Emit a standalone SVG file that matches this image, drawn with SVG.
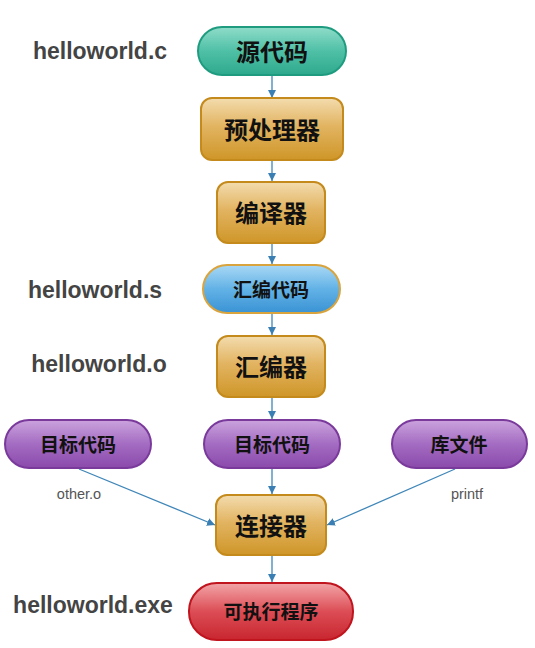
<svg xmlns="http://www.w3.org/2000/svg" width="535" height="648" viewBox="0 0 535 648">
<defs>
<linearGradient id="gGreen" x1="0" y1="0" x2="0" y2="1">
<stop offset="0" stop-color="#8fdcc9"/><stop offset="0.5" stop-color="#4fc0a6"/><stop offset="1" stop-color="#2ea98d"/>
</linearGradient>
<linearGradient id="gGold" x1="0" y1="0" x2="0" y2="1">
<stop offset="0" stop-color="#f3dcae"/><stop offset="0.45" stop-color="#e2b462"/><stop offset="1" stop-color="#cf9628"/>
</linearGradient>
<linearGradient id="gBlue" x1="0" y1="0" x2="0" y2="1">
<stop offset="0" stop-color="#a9d8f5"/><stop offset="0.5" stop-color="#62b2e6"/><stop offset="1" stop-color="#3a93d4"/>
</linearGradient>
<linearGradient id="gPurple" x1="0" y1="0" x2="0" y2="1">
<stop offset="0" stop-color="#cba3dd"/><stop offset="0.5" stop-color="#a46cc2"/><stop offset="1" stop-color="#8a4aab"/>
</linearGradient>
<linearGradient id="gRed" x1="0" y1="0" x2="0" y2="1">
<stop offset="0" stop-color="#f2a5a8"/><stop offset="0.5" stop-color="#dc4d55"/><stop offset="1" stop-color="#c8262f"/>
</linearGradient>
<marker id="arr" viewBox="0 0 10 10" refX="10" refY="5" markerWidth="8" markerHeight="8" markerUnits="userSpaceOnUse" orient="auto">
<path d="M0,0 L10,5 L0,10 z" fill="#3a7fb3"/>
</marker>
</defs>
<style>
.lbl{font-family:"Liberation Sans",Arial,sans-serif;font-weight:bold;font-size:23px;fill:#444;text-anchor:middle}
.sm{font-family:"Liberation Sans",Arial,sans-serif;font-size:14.5px;fill:#555;text-anchor:middle}
.big{font-family:"Noto Sans CJK SC",sans-serif;font-weight:bold;font-size:24px;fill:#111;text-anchor:middle;dominant-baseline:central}
.pil{font-family:"Noto Sans CJK SC",sans-serif;font-weight:bold;font-size:19px;fill:#111;text-anchor:middle;dominant-baseline:central}
.green{fill:url(#gGreen);stroke:#1f9c80;stroke-width:2}
.gold{fill:url(#gGold);stroke:#c48a1c;stroke-width:2}
.blue{fill:url(#gBlue);stroke:#d9a43e;stroke-width:2}
.purple{fill:url(#gPurple);stroke:#7a3a9c;stroke-width:2}
.red{fill:url(#gRed);stroke:#c0141e;stroke-width:2}
.edge{stroke:#3f86b8;stroke-width:1.3;fill:none;marker-end:url(#arr)}
</style>
<rect width="535" height="648" fill="#fff"/>
<g id="labels">
<text class="lbl" x="100" y="59">helloworld.c</text>
<text class="lbl" x="95" y="298">helloworld.s</text>
<text class="lbl" x="99" y="372">helloworld.o</text>
<text class="lbl" x="93" y="613">helloworld.exe</text>
<text class="sm" x="79" y="499">other.o</text>
<text class="sm" x="467" y="499">printf</text>
</g>
<g id="edges">
<line class="edge" x1="272" y1="75" x2="272" y2="98"/>
<line class="edge" x1="272" y1="160" x2="272" y2="181"/>
<line class="edge" x1="272" y1="243" x2="272" y2="264"/>
<line class="edge" x1="272" y1="313" x2="272" y2="335"/>
<line class="edge" x1="272" y1="397" x2="272" y2="419"/>
<line class="edge" x1="272" y1="468" x2="272" y2="494"/>
<line class="edge" x1="272" y1="556" x2="272" y2="582"/>
<line class="edge" x1="79" y1="469" x2="215" y2="525"/>
<line class="edge" x1="455" y1="469" x2="327" y2="525"/>
</g>
<g id="n1"><rect class="green" x="198" y="27" width="148" height="48" rx="24"/><text class="big" x="272" y="50">源代码</text></g>
<g id="n2"><rect class="gold" x="201" y="98" width="142" height="62" rx="11"/><text class="big" x="272" y="128">预处理器</text></g>
<g id="n3"><rect class="gold" x="217" y="182" width="108" height="61" rx="11"/><text class="big" x="271" y="211">编译器</text></g>
<g id="n4"><rect class="blue" x="203" y="265" width="137" height="48" rx="24"/><text class="pil" x="271" y="288">汇编代码</text></g>
<g id="n5"><rect class="gold" x="217" y="336" width="108" height="61" rx="11"/><text class="big" x="271" y="365">汇编器</text></g>
<g id="n6a"><rect class="purple" x="5" y="420" width="146" height="48" rx="24"/><text class="pil" x="78" y="443">目标代码</text></g>
<g id="n6b"><rect class="purple" x="204" y="420" width="136" height="48" rx="24"/><text class="pil" x="272" y="443">目标代码</text></g>
<g id="n6c"><rect class="purple" x="392" y="420" width="135" height="48" rx="24"/><text class="pil" x="459" y="443">库文件</text></g>
<g id="n7"><rect class="gold" x="216" y="495" width="110" height="60" rx="11"/><text class="big" x="271" y="524">连接器</text></g>
<g id="n8"><rect class="red" x="189" y="583" width="164" height="57" rx="28"/><text class="pil" x="271" y="610">可执行程序</text></g>
</svg>
